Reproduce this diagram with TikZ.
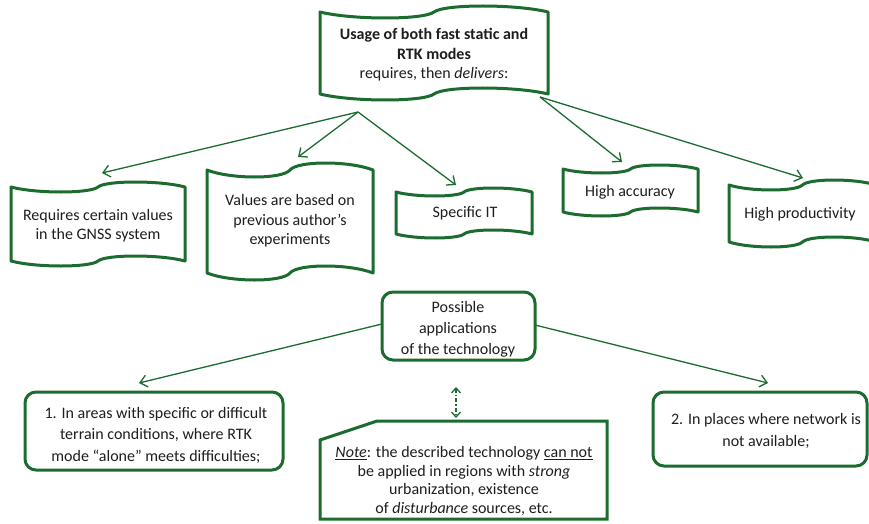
\documentclass[tikz,border=0pt]{standalone}
\usepackage{fontspec}
\setmainfont{Carlito}
\usetikzlibrary{arrows.meta}
\definecolor{dg}{RGB}{28,108,48}
\definecolor{txtc}{RGB}{30,30,30}
\newcommand\tapepath[5]{%
  \pgfmathsetmacro\tpxa{#1}\pgfmathsetmacro\tpxb{#3}%
  \pgfmathsetmacro\tpxm{(#1+#3)/2}%
  \pgfmathsetmacro\tpq{(#3-#1)/7}%
  \pgfmathsetmacro\tpr{(#3-#1)/22}%
  \pgfmathsetmacro\tpk{4*#5/3}%
  \pgfmathsetmacro\tpta{#2+\tpk}\pgfmathsetmacro\tptb{#2-\tpk}%
  \pgfmathsetmacro\tpba{#4+\tpk}\pgfmathsetmacro\tpbb{#4-\tpk}%
  \draw[tapeline] (#1,#2) .. controls (\tpxa+\tpq,\tpta) and (\tpxm-\tpr,\tpta) .. (\tpxm,#2)
     .. controls (\tpxm+\tpr,\tptb) and (\tpxb-\tpq,\tptb) .. (#3,#2)
     -- (#3,#4) .. controls (\tpxb-\tpq,\tpbb) and (\tpxm+\tpr,\tpbb) .. (\tpxm,#4)
     .. controls (\tpxm-\tpr,\tpba) and (\tpxa+\tpq,\tpba) .. (#1,#4) -- cycle;}
\begin{document}
\begin{tikzpicture}[x=1pt,y=-1pt,
  tapeline/.style={draw=dg,line width=3pt,line join=round,fill=white},
  rbox/.style={draw=dg,line width=3pt,rounded corners=11pt,fill=white},
  txt/.style={text=txtc,align=center,inner sep=0pt,font=\fontsize{16}{20}\selectfont},
  arr/.style={draw=dg,line width=1.3pt,-{Straight Barb[length=7pt,width=12pt]}},
  darr/.style={draw=dg,line width=1.3pt,dash pattern=on 4pt off 2pt on 1.5pt off 2pt,
     {Straight Barb[length=5pt,width=9pt]}-{Straight Barb[length=5pt,width=9pt]}}]
\fill[white] (0,0) rectangle (869,524);
\useasboundingbox (0,0) rectangle (869,524);

% top tape
\tapepath{320}{12}{548}{94}{6}
\node[txt,font=\fontsize{16}{19.5}\selectfont] (top) at (434,55) {\textbf{Usage of both fast static and}\\\textbf{RTK modes}\\requires, then \textit{delivers}:};

% second row tapes
\tapepath{11}{187}{185}{261}{5}
\node[txt,font=\fontsize{16}{19}\selectfont] (t1) at (98,226) {Requires certain values\\in the GNSS system};
\tapepath{207}{170}{373}{273}{7}
\node[txt,font=\fontsize{16}{19.5}\selectfont] (t2) at (290,221) {Values are based on\\previous author’s\\experiments};
\tapepath{396}{192}{532}{234}{4}
\node[txt] (t3) at (465,213) {Specific IT};
\tapepath{563}{169}{698}{212}{4}
\node[txt] (t4) at (630,192) {High accuracy};
\tapepath{729}{185}{876}{242}{5}
\node[txt] (t5) at (800,214) {High productivity};

% arrows from top
\coordinate (s1) at (358,112);
\coordinate (s2) at (540,97);
\coordinate (e1) at (102,173);
\coordinate (e2) at (298,157);
\coordinate (e3) at (456,185);
\coordinate (e4) at (622,162);
\coordinate (e5) at (803,178);
\draw[arr] (s1) -- (e1);
\draw[arr] (s1) -- (e2);
\draw[arr] (s1) -- (e3);
\draw[arr] (s2) -- (e4);
\draw[arr] (s2) -- (e5);

% possible applications
\draw[rbox] (382,292) rectangle (535,360);
\node[txt,font=\fontsize{16}{21}\selectfont] (pos) at (458,329) {Possible\\applications\\of the technology};
\coordinate (pw) at (382,324);
\coordinate (pe) at (535,325);
\coordinate (e6) at (139,383);
\coordinate (e7) at (768,383);
\draw[arr] (pw) -- (e6);
\draw[arr] (pe) -- (e7);

% bottom boxes
\draw[rbox] (25,392) rectangle (283,470);
\node[txt,font=\fontsize{16}{21.5}\selectfont] (b1) at (156,435) {1. In areas with specific or difficult\\terrain conditions, where RTK\\mode “alone” meets difficulties;};
\draw[rbox] (653,392) rectangle (867,466);
\node[txt,font=\fontsize{16}{22}\selectfont] (b2) at (766,431) {2. In places where network is\\not available;};

% note box
\draw[draw=dg,line width=3pt,line join=miter,fill=white] (320,440) -- (377,421) -- (607,421) -- (607,519) -- (320,519) -- cycle;
\node[txt,font=\fontsize{16}{18.5}\selectfont] (note) at (464,481) {\underline{\textit{Note}}: the described technology \underline{can not}\\be applied in regions with \textit{strong}\\urbanization, existence\\of \textit{disturbance} sources, etc.};
\coordinate (d1) at (456,387);
\coordinate (d2) at (456,418);
\draw[darr] (d1) -- (d2);
\end{tikzpicture}
\end{document}
